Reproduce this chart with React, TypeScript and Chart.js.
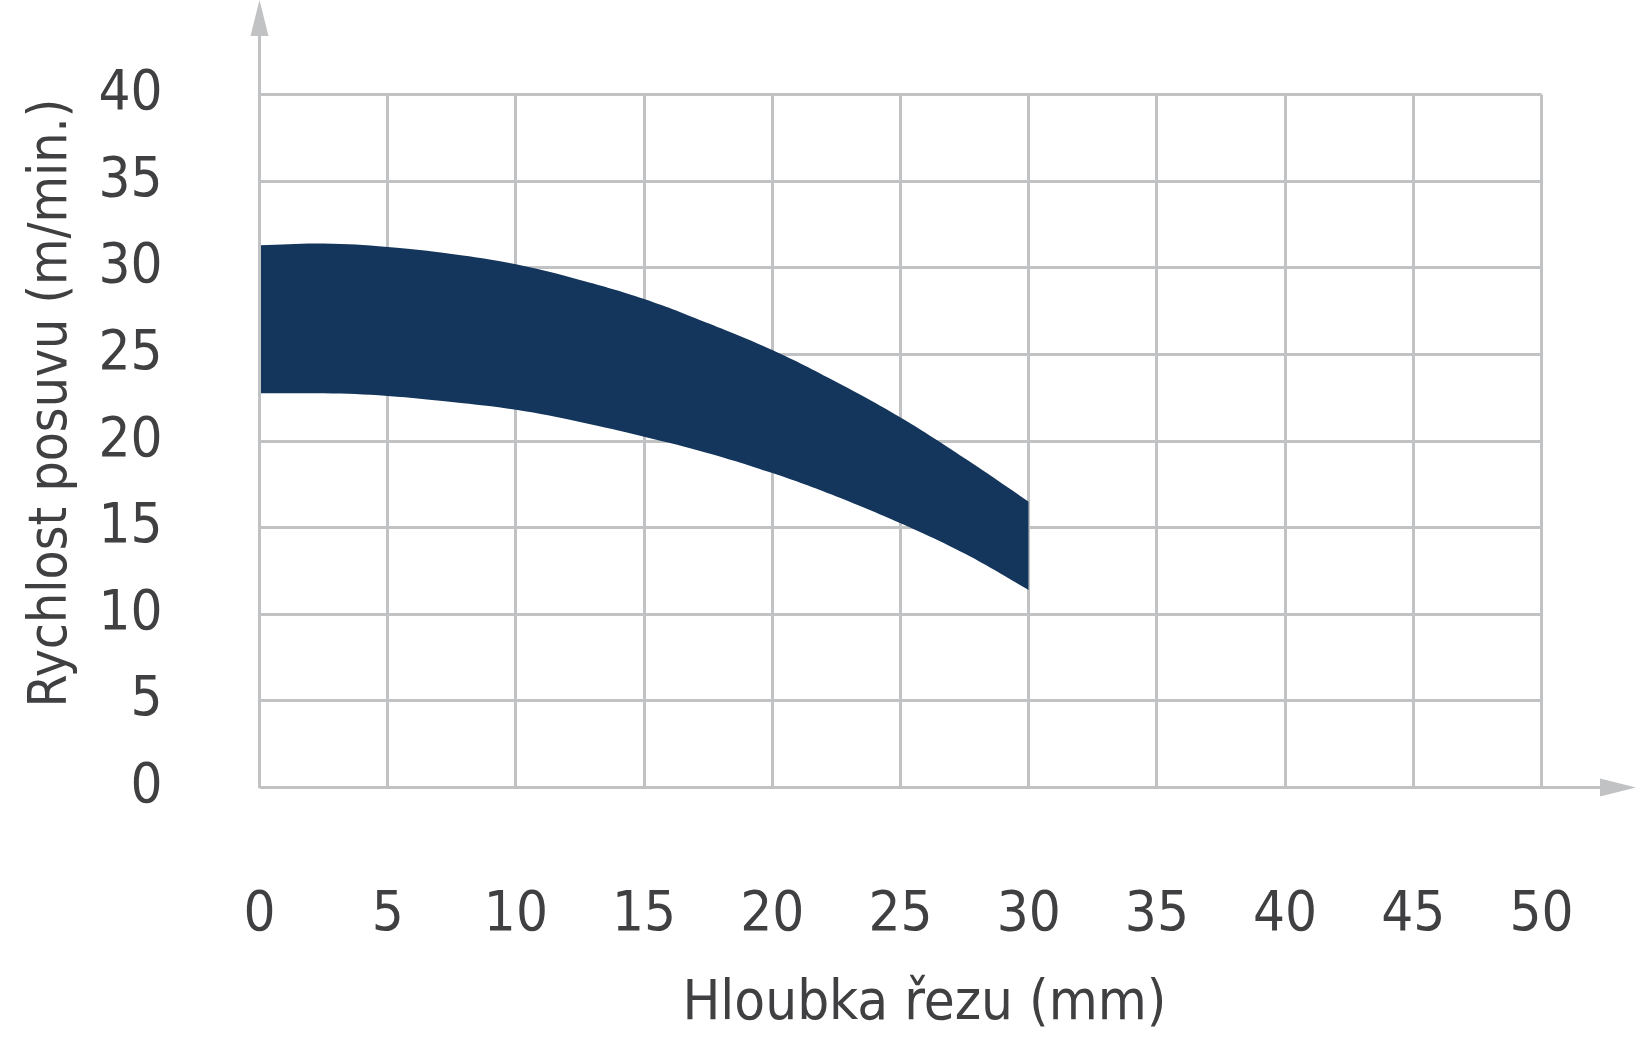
import React, { useEffect, useRef } from "react";
import { Chart, registerables, Plugin } from "chart.js";

Chart.register(...registerables);

// hloubka řezu (mm)
const depths = [0, 2.5, 5, 7.5, 10, 12.5, 15, 17.5, 20, 22.5, 25, 27.5, 30];
// horní a dolní hranice rychlosti posuvu (m/min.)
const upperSpeed = [31.3, 31.4, 31.2, 30.8, 30.2, 29.3, 28.2, 26.8, 25.25, 23.4, 21.35, 19.0, 16.5];
const lowerSpeed = [22.75, 22.75, 22.6, 22.25, 21.8, 21.1, 20.25, 19.3, 18.15, 16.8, 15.25, 13.5, 11.4];

const xTicks = [0, 5, 10, 15, 20, 25, 30, 35, 40, 45, 50];
const yTicks = [0, 5, 10, 15, 20, 25, 30, 35, 40];

const xTitle = "Hloubka řezu (mm)";
const yTitle = "Rychlost posuvu (m/min.)";

const FONT = "'DejaVu Sans Condensed', 'Liberation Sans Narrow', Roboto, sans-serif";
const TEXT = "#404042";
const GRID = "#c1c2c4";
const BAND = "#14365c";

const arrowPlugin: Plugin<"line"> = {
  id: "axisArrows",
  afterDraw(chart) {
    const { ctx, chartArea, width } = chart;
    const x0 = chartArea.left;
    const y0 = chartArea.bottom;
    ctx.save();
    ctx.strokeStyle = GRID;
    ctx.fillStyle = GRID;
    ctx.lineWidth = 3;
    // osa y
    ctx.beginPath();
    ctx.moveTo(x0, y0);
    ctx.lineTo(x0, 36);
    ctx.stroke();
    ctx.beginPath();
    ctx.moveTo(x0, 0);
    ctx.lineTo(x0 - 9, 36);
    ctx.lineTo(x0 + 9, 36);
    ctx.closePath();
    ctx.fill();
    // osa x
    ctx.beginPath();
    ctx.moveTo(x0, y0);
    ctx.lineTo(width - 40, y0);
    ctx.stroke();
    ctx.beginPath();
    ctx.moveTo(width - 4, y0);
    ctx.lineTo(width - 40, y0 - 9);
    ctx.lineTo(width - 40, y0 + 9);
    ctx.closePath();
    ctx.fill();
    ctx.restore();
  },
};

const App: React.FC = () => {
  const canvasRef = useRef<HTMLCanvasElement | null>(null);

  useEffect(() => {
    document.body.style.margin = "0";
    const ctx = canvasRef.current?.getContext("2d");
    if (!ctx) return;

    const chart = new Chart(ctx, {
      type: "line",
      data: {
        labels: depths,
        datasets: [
          {
            label: "max",
            data: depths.map((d, i) => ({ x: d, y: upperSpeed[i] })),
            borderWidth: 0,
            pointRadius: 0,
            backgroundColor: BAND,
            fill: "+1",
            tension: 0.4,
          },
          {
            label: "min",
            data: depths.map((d, i) => ({ x: d, y: lowerSpeed[i] })),
            borderWidth: 0,
            pointRadius: 0,
            fill: false,
            tension: 0.4,
          },
        ],
      },
      options: {
        animation: false,
        responsive: true,
        maintainAspectRatio: false,
        layout: { padding: { left: 0, top: 94.5, right: 98.5, bottom: 0 } },
        plugins: { legend: { display: false }, tooltip: { enabled: false } },
        scales: {
          x: {
            type: "linear",
            min: 0,
            max: 50,
            z: 1,
            afterFit(scale) {
              scale.height = 262.5;
              scale.paddingLeft = 0;
              scale.paddingRight = 0;
            },
            afterBuildTicks(scale) {
              scale.ticks = xTicks.map((v) => ({ value: v }));
            },
            grid: { color: GRID, lineWidth: 3, drawTicks: false },
            border: { display: false },
            ticks: {
              padding: 94,
              color: TEXT,
              maxRotation: 0,
              font: { family: FONT, size: 56 },
            },
            title: {
              display: true,
              text: "   " + xTitle,
              color: TEXT,
              font: { family: FONT, size: 56 },
              padding: { top: 0, bottom: 12 },
            },
          },
          y: {
            type: "linear",
            min: 0,
            max: 40,
            z: 1,
            afterFit(scale) {
              scale.width = 259.5;
              scale.paddingTop = 0;
              scale.paddingBottom = 0;
            },
            afterBuildTicks(scale) {
              scale.ticks = yTicks.map((v) => ({ value: v }));
            },
            grid: { color: GRID, lineWidth: 3, drawTicks: false },
            border: { display: false },
            ticks: {
              padding: 97,
              color: TEXT,
              font: { family: FONT, size: 56 },
            },
            title: {
              display: true,
              text: "     " + yTitle,
              color: TEXT,
              font: { family: FONT, size: 53 },
              padding: { top: 20, bottom: 0 },
            },
          },
        },
      },
      plugins: [arrowPlugin],
    });

    return () => {
      chart.destroy();
    };
  }, []);

  return (
    <div style={{ width: "1640px", height: "1050px", background: "#fff" }}>
      <canvas ref={canvasRef} />
    </div>
  );
};

export default App;
